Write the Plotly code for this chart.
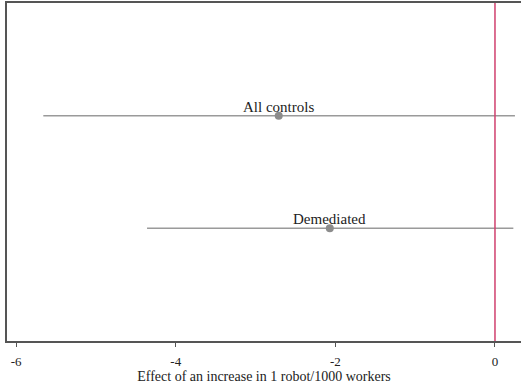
import plotly.graph_objects as go

# Point estimates and 95% confidence bounds
specs = ["All controls", "Demediated"]
estimates = [-2.71, -2.07]
ci_low = [-5.66, -4.36]
ci_high = [0.25, 0.23]
row_pos = [2, 1]

err_plus = [h - e for h, e in zip(ci_high, estimates)]
err_minus = [e - l for e, l in zip(estimates, ci_low)]

fig = go.Figure()
fig.add_trace(go.Scatter(
    x=estimates, y=row_pos, mode="markers",
    marker=dict(color="#8c8c8c", size=8),
    error_x=dict(type="data", symmetric=False, array=err_plus, arrayminus=err_minus,
                 color="#9a9a9a", thickness=1.5, width=0),
    showlegend=False, hoverinfo="skip",
))

for name, e, r in zip(specs, estimates, row_pos):
    fig.add_annotation(x=e, y=r, text=name, showarrow=False, yanchor="bottom", yshift=-1,
                       font=dict(family="Liberation Serif", size=15, color="#222"))

# Reference line at zero
fig.add_vline(x=0, line=dict(color="#d0406e", width=1.5))

serif = "Liberation Serif"
fig.update_layout(
    width=521, height=386,
    margin=dict(l=7, r=0, t=3, b=45),
    paper_bgcolor="white", plot_bgcolor="white",
    font=dict(family=serif, color="#222"),
    xaxis=dict(range=[-6.115, 0.326], tickvals=[-6, -4, -2, 0], ticktext=["-6", "-4", "-2", "0"],
               showgrid=False, zeroline=False, showline=True, linecolor="#555", linewidth=2,
               mirror=True, ticks="outside", ticklen=4, tickcolor="#555", tickwidth=1,
               ticklabelstandoff=3,
               tickfont=dict(family=serif, size=13, color="#222"),
               title=dict(text="Effect of an increase in 1 robot/1000 workers",
                          font=dict(family=serif, size=14, color="#222"), standoff=0)),
    yaxis=dict(range=[0, 3], showticklabels=False, showgrid=False, zeroline=False,
               showline=True, linecolor="#555", linewidth=2, ticks=""),
)

fig.write_html("out.html")
